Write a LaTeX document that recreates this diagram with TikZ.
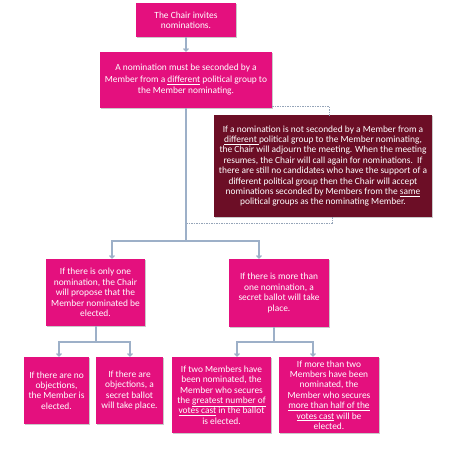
\documentclass[tikz,border=0pt]{standalone}
\usepackage{fontspec}
\setmainfont{Carlito}
\usetikzlibrary{arrows.meta,shadows}
\definecolor{pinkbox}{RGB}{228,16,126}
\definecolor{darkbox}{RGB}{108,14,38}
\definecolor{connc}{RGB}{157,176,200}
\definecolor{dashcol}{RGB}{150,165,185}
\begin{document}
\begin{tikzpicture}[x=1pt,y=-1pt,
  box/.style={fill=pinkbox,draw=none,text=white,align=center,inner sep=1pt,
    font=\fontsize{9.4}{10.4}\selectfont,
    drop shadow={shadow xshift=1.2pt,shadow yshift=-1.2pt,opacity=0.35,fill=black!60}},
  dbox/.style={box,fill=darkbox},
  conn/.style={draw=connc,line width=1.1pt},
  arr/.style={conn,-{Straight Barb[length=2.5pt,width=5pt]}},
  dashc/.style={draw=dashcol,line width=0.8pt,dash pattern=on 1.5pt off 1pt}]
\useasboundingbox (0,0) rectangle (474,449);
\fill[white] (0,0) rectangle (474,449);

\node[box,minimum width=100pt,minimum height=34pt] (b1) at (186,20)
  {The Chair invites\\nominations.};
\node[box,minimum width=172pt,minimum height=56pt,font=\fontsize{9.4}{11.5}\selectfont] (b2) at (186,80)
  {A nomination must be seconded by a\\Member from a \underline{different} political group to\\the Member nominating.};
\node[dbox,minimum width=218pt,minimum height=102pt] (dk) at (323,166)
  {If a nomination is not seconded by a Member from a\\\underline{different }political group to the Member nominating,\\the Chair will adjourn the meeting. When the meeting\\resumes, the Chair will call again for nominations.\ \ If\\there are still no candidates who have the support of a\\different political group then the Chair will accept\\nominations seconded by Members from the \underline{same}\\political groups as the nominating Member.};
\node[box,minimum width=99pt,minimum height=67pt] (b3) at (95.5,292.5)
  {If there is only one\\nomination, the Chair\\will propose that the\\Member nominated be\\elected.};
\node[box,minimum width=100pt,minimum height=68pt] (b4) at (279,293)
  {If there is more than\\one nomination, a\\secret ballot will take\\place.};
\node[box,minimum width=65pt,minimum height=67pt] (b5) at (56.5,390.5)
  {If there are no\\objections,\\the Member is\\elected.};
\node[box,minimum width=67pt,minimum height=67pt] (b6) at (129.5,390.5)
  {If there are\\objections, a\\secret ballot\\will take place.};
\node[box,minimum width=99pt,minimum height=76pt] (b7) at (221.5,395)
  {If two Members have\\been nominated, the\\Member who secures\\the \underline{greatest number of}\\\underline{votes cast} in the ballot\\is elected.};
\node[box,minimum width=100pt,minimum height=76pt] (b8) at (329,395)
  {If more than two\\Members have been\\nominated, the\\Member who secures\\\underline{more than half of the}\\\underline{votes cast} will be\\elected.};

% helper coordinates
\coordinate (t1) at (186,241);
\coordinate (jd) at (186,223);
\coordinate (x3) at (112,0);
\coordinate (x4) at (259,0);
\coordinate (t3) at (96,342);
\coordinate (t4) at (274,342);
\coordinate (x5) at (59,0);
\coordinate (x6) at (130,0);
\coordinate (x7) at (237,0);
\coordinate (x8) at (313,0);

\draw[arr] (b1) -- (b2);
\draw[dashc] ([yshift=2pt]b2.south east) -| ([xshift=6pt,yshift=-2pt]dk.north);
\draw[dashc] (jd) -| ([xshift=9pt]dk.south);
\draw[conn] (b2) -- (t1);
\draw[arr] (t1) -| (b3.north -| x3);
\draw[arr] (t1) -| (b4.north -| x4);
\draw[conn] (b3.south -| t3) -- (t3);
\draw[arr] (t3) -| (b5.north -| x5);
\draw[arr] (t3) -| (b6.north -| x6);
\draw[conn] (b4.south -| t4) -- (t4);
\draw[arr] (t4) -| (b7.north -| x7);
\draw[arr] (t4) -| (b8.north -| x8);
\end{tikzpicture}
\end{document}
